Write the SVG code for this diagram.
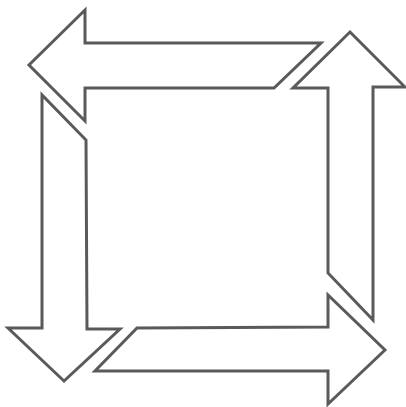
<svg xmlns="http://www.w3.org/2000/svg" width="406" height="407" viewBox="0 0 406 407">
<style>
.arrow{fill:#ffffff;stroke:#5a5a5a;stroke-width:3;stroke-linejoin:miter}
</style>
<rect width="406" height="407" fill="#ffffff"/>
<g id="arrow-top"><polygon class="arrow" points="321,43 85,43 85,10 29,65 85,121 85,88 274,88"/></g>
<g id="arrow-right"><polygon class="arrow" points="350,32 405,87 373,87 373,320 328,273 328,88 293,88"/></g>
<g id="arrow-bottom"><polygon class="arrow" points="385,350 328,404 328,371 95,371 137,328 328,327 328,295"/></g>
<g id="arrow-left"><polygon class="arrow" points="64,381 8,328 42,328 42,95 86,140 87,329 120,329"/></g>
<g id="connectors"></g>
</svg>
